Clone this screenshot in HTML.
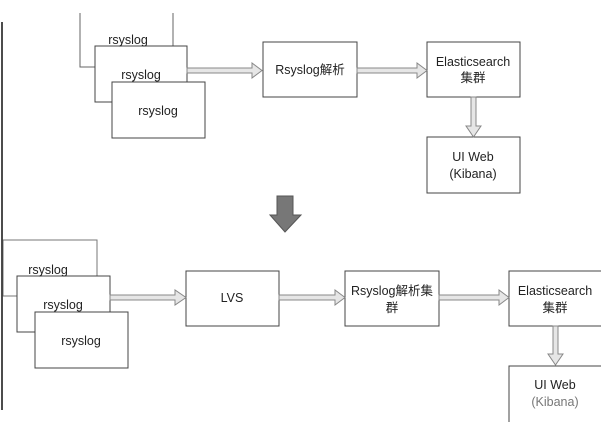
<!DOCTYPE html>
<html><head><meta charset="utf-8"><style>
html,body{margin:0;padding:0;background:#fff;}
svg{display:block;}
text{font-family:"Liberation Sans","Noto Sans CJK SC",sans-serif;font-size:12.5px;fill:#222;text-anchor:middle;}
</style></head><body>
<svg width="601" height="422" viewBox="0 0 601 422" xmlns="http://www.w3.org/2000/svg">
<defs>
<g id="ah"><path d="M0,-2.5 H-11 M0,2.5 H-11" /></g>
</defs>
<line x1="2" y1="22" x2="2" y2="410" stroke="#111" stroke-width="1.5"/>
<g fill="#fff" stroke="#444" stroke-width="1">
<!-- top rsyslogs -->
<polyline points="80,13 80,67 95,67" fill="none" stroke="#666"/>
<line x1="173" y1="13" x2="173" y2="46" stroke="#666"/>
<rect x="95" y="46" width="92" height="56"/>
<rect x="112" y="82" width="93" height="56"/>
<rect x="263" y="42" width="94" height="55"/>
<rect x="427" y="42" width="93" height="55"/>
<rect x="427" y="137" width="93" height="56"/>
<!-- bottom -->
<rect x="3" y="240" width="94" height="56" stroke="#777"/>
<rect x="17" y="276" width="93" height="56"/>
<rect x="35" y="312" width="93" height="56"/>
<rect x="186" y="271" width="93" height="55"/>
<rect x="345" y="271" width="94" height="55"/>
<rect x="509" y="271" width="100" height="55"/>
<rect x="509" y="366" width="100" height="70"/>
</g>
<!-- arrows -->
<g fill="#e6e6e6" stroke="#888" stroke-width="1">
<path d="M187,68 H252 V63 L262,70.5 L252,78 V73 H187 Z"/>
<path d="M357,68 H417 V63 L427,70.5 L417,78 V73 H357 Z"/>
<path d="M471,97 V126 H466 L473.5,137 L481,126 H476 V97 Z"/>
<path d="M110,295 H175 V290 L186,297.5 L175,305 V300 H110 Z"/>
<path d="M279,295 H335 V290 L345,297.5 L335,305 V300 H279 Z"/>
<path d="M439,295 H499 V290 L509,297.5 L499,305 V300 H439 Z"/>
<path d="M553,326 V354 H548 L555.5,365 L563,354 H558 V326 Z"/>
</g>
<path d="M277,196 H293 V215 H301 L285,232 L270,215 H277 Z" fill="#777" stroke="#555"/>
<!-- labels -->
<text x="128" y="44">rsyslog</text>
<text x="141" y="79">rsyslog</text>
<text x="158" y="115">rsyslog</text>
<text x="310" y="74">Rsyslog解析</text>
<text x="473" y="66">Elasticsearch</text>
<text x="473" y="82">集群</text>
<text x="473" y="161">UI Web</text>
<text x="473" y="178">(Kibana)</text>
<text x="48" y="274">rsyslog</text>
<text x="63" y="309">rsyslog</text>
<text x="81" y="345">rsyslog</text>
<text x="232" y="302">LVS</text>
<text x="392" y="295">Rsyslog解析集</text>
<text x="392" y="312">群</text>
<text x="555" y="295">Elasticsearch</text>
<text x="555" y="312">集群</text>
<text x="555" y="389">UI Web</text>
<text x="555" y="406" style="fill:#777">(Kibana)</text>
</svg>
</body></html>
